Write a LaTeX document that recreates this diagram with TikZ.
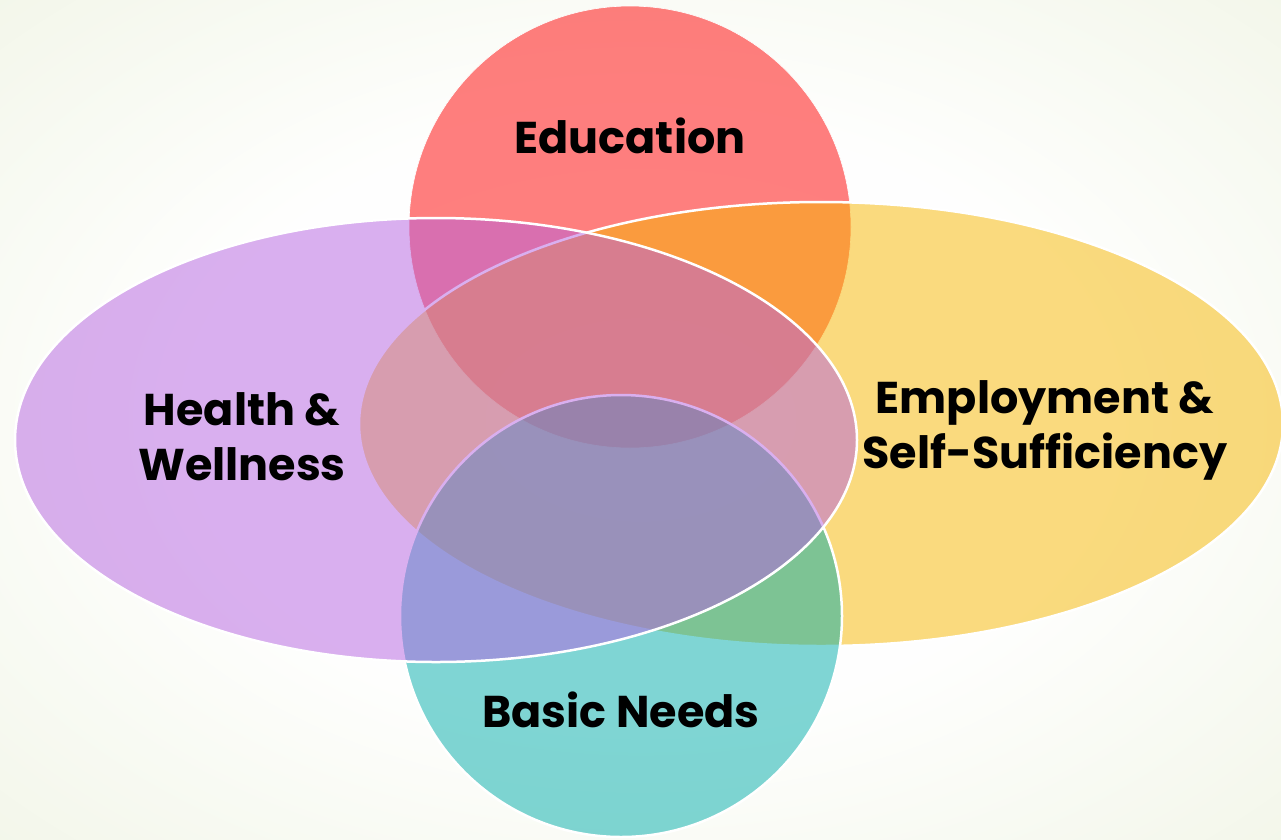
\documentclass[tikz,border=0pt]{standalone}
\usepackage{fontspec}
\setmainfont{Poppins}
\usetikzlibrary{positioning}

\definecolor{edured}{RGB}{255,0,0}
\definecolor{empyellow}{RGB}{247,183,0}
\definecolor{healthpurple}{RGB}{181,97,225}
\definecolor{basicteal}{RGB}{1,173,171}
\definecolor{bgedge}{RGB}{234,240,218}

\pgfdeclareradialshading{bgglow}{\pgfpoint{0bp}{0bp}}{color(0bp)=(white); color(18bp)=(white!96!bgedge); color(50bp)=(bgedge); color(75bp)=(bgedge)}

\tikzset{
	area/.style={fill opacity=0.5, draw=white, line width=2.5pt},
	vtext/.style={font=\fontsize{44.5}{55}\selectfont\bfseries, text=black, align=center, inner sep=0pt},
}

\begin{document}
\begin{tikzpicture}[x=1pt, y=-1pt]
	% background
	\shade[shading=bgglow] (0,0) rectangle (1281,839);
	\useasboundingbox (0,0) rectangle (1281,839);
	
	\coordinate (cEdu) at (630,227);
	\coordinate (cEmp) at (821,424);
	\coordinate (cBas) at (621,616);
	\coordinate (cHea) at (436,440);
	
	\filldraw[area, fill=edured, line width=0.6pt] (cEdu) circle [radius=221];
	\filldraw[area, fill=empyellow] (cEmp) ellipse [x radius=462, y radius=222];
	\filldraw[area, fill=basicteal] (cBas) circle [radius=221];
	\filldraw[area, fill=healthpurple] (cHea) ellipse [x radius=421, y radius=222];
	
	\node (edu) [vtext, anchor=base] at (630,153) {Education};
	\node (emp) [vtext] at (1045,430) {Employment \&\\Self-Sufficiency};
	\node (hea) [vtext] at (242,437) {Health \&\\Wellness};
	\node (bas) [vtext, anchor=base] at (621,727) {Basic Needs};
	
\end{tikzpicture}
\end{document}
